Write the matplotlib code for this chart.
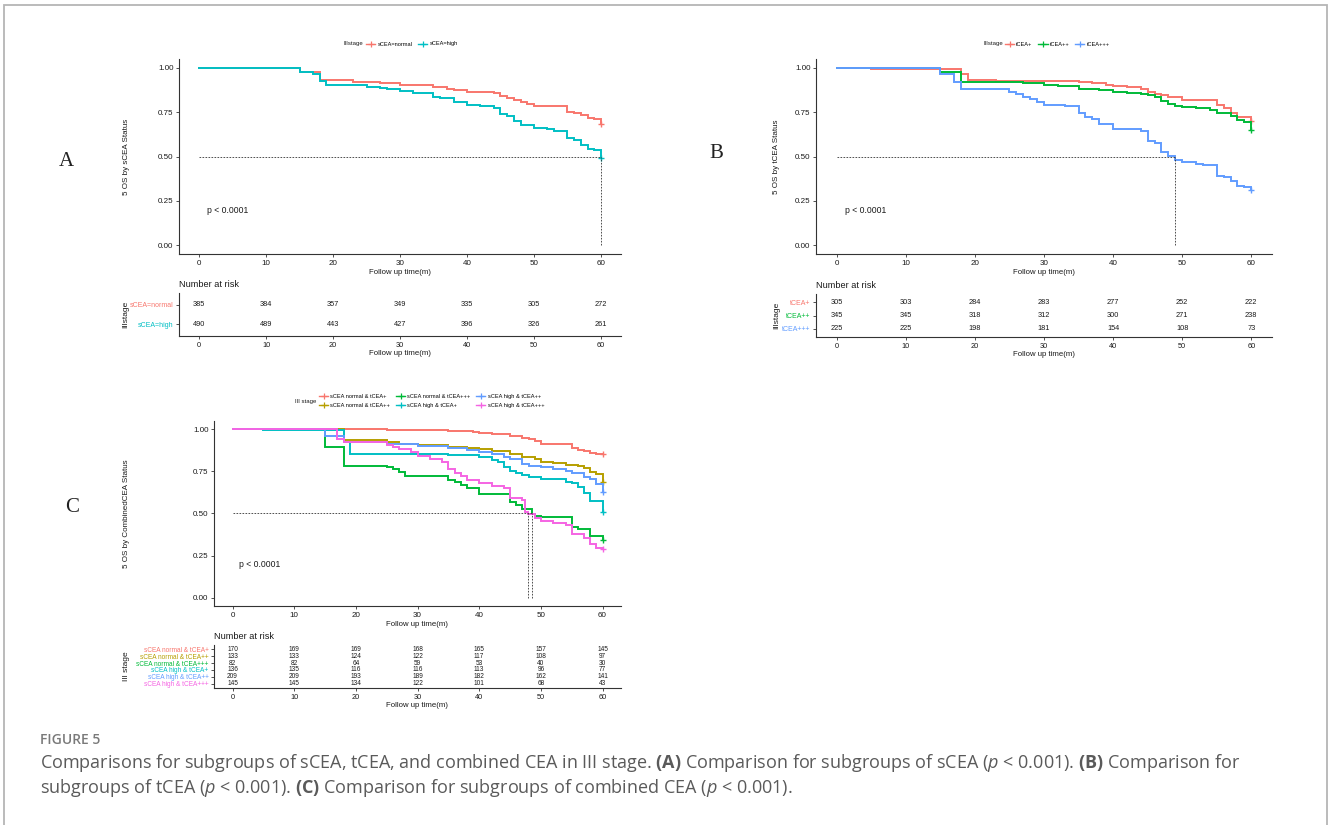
import matplotlib
matplotlib.use('Agg')
import matplotlib.pyplot as plt
from matplotlib.lines import Line2D
from matplotlib.patches import Rectangle

plt.rcParams['font.family'] = ['Liberation Sans', 'DejaVu Sans']
plt.rcParams['mathtext.fontset'] = 'custom'
plt.rcParams['mathtext.rm'] = 'Open Sans'
plt.rcParams['mathtext.it'] = 'Open Sans:italic'
plt.rcParams['mathtext.bf'] = 'Open Sans:bold'

# ---------------- data ----------------
# Panel A: sCEA
A_groups = ["sCEA=normal", "sCEA=high"]
A_colors = ["#F8766D", "#00BFC4"]
A_t_normal = [0, 7, 15, 18, 20, 23, 25, 27, 30, 35, 37, 38, 40, 44, 45, 46, 47, 48, 49, 50, 55, 56, 57, 58, 59, 60]
A_s_normal = [1.0, 0.997, 0.974, 0.931, 0.929, 0.921, 0.918, 0.912, 0.906, 0.893, 0.882, 0.873, 0.863, 0.856,
              0.841, 0.830, 0.818, 0.809, 0.798, 0.785, 0.749, 0.743, 0.734, 0.717, 0.710, 0.685]
A_t_high = [0, 5, 15, 17, 18, 19, 25, 27, 28, 30, 32, 35, 36, 38, 40, 42, 44, 45, 46, 47, 48, 50, 52, 53,
            55, 56, 57, 58, 59, 60]
A_s_high = [1.0, 0.998, 0.978, 0.964, 0.927, 0.903, 0.893, 0.884, 0.878, 0.869, 0.861, 0.837, 0.830, 0.809,
            0.792, 0.785, 0.772, 0.740, 0.728, 0.702, 0.676, 0.663, 0.654, 0.646, 0.607, 0.594, 0.566, 0.543,
            0.534, 0.494]
A_medians = [60]
A_risk_normal = [385, 384, 357, 349, 335, 305, 272]
A_risk_high = [490, 489, 443, 427, 396, 326, 261]

# Panel B: tCEA
B_groups = ["tCEA+", "tCEA++", "tCEA+++"]
B_colors = ["#F8766D", "#00BA38", "#619CFF"]
B_t_p1 = [0, 5, 8.5, 18, 19, 23, 35, 37, 39, 40, 42, 44, 45, 46, 47, 48, 50, 55, 56, 57, 58, 60]
B_s_p1 = [1.0, 0.996, 0.991, 0.966, 0.931, 0.927, 0.921, 0.916, 0.906, 0.897, 0.890, 0.878, 0.863, 0.854,
          0.845, 0.837, 0.818, 0.788, 0.775, 0.743, 0.725, 0.700]
B_t_p2 = [0, 15, 18, 25, 27, 30, 32, 35, 38, 40, 42, 44, 45, 46, 47, 48, 49, 50, 52, 54, 55, 57, 58, 59, 60]
B_s_p2 = [1.0, 0.974, 0.923, 0.918, 0.912, 0.904, 0.897, 0.882, 0.873, 0.865, 0.860, 0.854, 0.845, 0.837,
          0.815, 0.796, 0.787, 0.781, 0.773, 0.762, 0.743, 0.728, 0.706, 0.693, 0.650]
B_t_p3 = [0, 15, 17, 18, 25, 26, 27, 28, 29, 30, 33, 35, 36, 37, 38, 40, 43, 44, 45, 46, 47, 48, 49,
          50, 52, 53, 55, 56, 57, 58, 59, 60]
B_s_p3 = [1.0, 0.964, 0.921, 0.880, 0.865, 0.854, 0.837, 0.822, 0.807, 0.792, 0.787, 0.743, 0.725, 0.712,
          0.682, 0.657, 0.654, 0.646, 0.588, 0.575, 0.528, 0.504, 0.481, 0.468, 0.459, 0.453, 0.391, 0.384,
          0.363, 0.331, 0.326, 0.311]
B_medians = [49]
B_risk_p1 = [305, 303, 284, 283, 277, 252, 222]
B_risk_p2 = [345, 345, 318, 312, 300, 271, 238]
B_risk_p3 = [225, 225, 198, 181, 154, 108, 73]

# Panel C: combined CEA
C_groups = ["sCEA normal & tCEA+", "sCEA normal & tCEA++", "sCEA normal & tCEA+++",
            "sCEA high & tCEA+", "sCEA high & tCEA++", "sCEA high & tCEA+++"]
C_colors = ["#F8766D", "#B79F00", "#00BA38", "#00BFC4", "#619CFF", "#F564E3"]
C_t_n1 = [0, 25, 35, 39, 40, 42, 45, 47, 48, 49, 50, 55, 56, 57, 58, 59, 60]
C_s_n1 = [1.0, 0.996, 0.990, 0.982, 0.976, 0.970, 0.960, 0.950, 0.941, 0.931, 0.915, 0.887, 0.877, 0.869,
          0.861, 0.855, 0.853]
C_t_n2 = [0, 18, 25, 27, 30, 35, 38, 40, 42, 45, 47, 49, 50, 52, 54, 56, 57, 58, 59, 60]
C_s_n2 = [1.0, 0.935, 0.923, 0.915, 0.907, 0.895, 0.887, 0.881, 0.873, 0.855, 0.838, 0.824, 0.808, 0.798,
          0.788, 0.782, 0.768, 0.749, 0.733, 0.690]
C_t_n3 = [0, 15, 18, 25, 26, 27, 28, 35, 36, 37, 38, 40, 45, 46, 47, 48.5, 49, 50, 55, 56, 58, 60]
C_s_n3 = [1.0, 0.897, 0.784, 0.776, 0.764, 0.745, 0.725, 0.699, 0.685, 0.669, 0.650, 0.614, 0.566, 0.551,
          0.525, 0.497, 0.485, 0.477, 0.422, 0.408, 0.368, 0.343]
C_t_h1 = [0, 5, 18, 19, 35, 40, 42, 43, 44, 45, 46, 47, 48, 50, 54, 55, 56, 57, 58, 60]
C_s_h1 = [1.0, 0.994, 0.926, 0.853, 0.848, 0.836, 0.818, 0.804, 0.778, 0.752, 0.739, 0.729, 0.717, 0.705,
          0.689, 0.681, 0.659, 0.620, 0.574, 0.507]
C_t_h2 = [0, 15, 18, 20, 25, 30, 35, 38, 40, 42, 44, 45, 47, 48, 50, 52, 54, 55, 57, 58, 59, 60]
C_s_h2 = [1.0, 0.960, 0.927, 0.923, 0.915, 0.903, 0.891, 0.877, 0.863, 0.853, 0.838, 0.824, 0.792, 0.782,
          0.774, 0.764, 0.752, 0.739, 0.719, 0.705, 0.673, 0.630]
C_t_h3 = [0, 17, 18, 25, 26, 27, 29, 30, 32, 34, 35, 36, 37, 38, 40, 42, 44, 45, 47, 47.5, 47.9, 49, 50,
          52, 54, 55, 57, 58, 59, 60]
C_s_h3 = [1.0, 0.941, 0.923, 0.907, 0.897, 0.883, 0.867, 0.844, 0.824, 0.808, 0.764, 0.739, 0.725, 0.699,
          0.679, 0.665, 0.650, 0.594, 0.580, 0.511, 0.495, 0.471, 0.455, 0.446, 0.432, 0.376, 0.352, 0.317,
          0.297, 0.290]
C_medians = [47.9, 48.5]
C_risk_n1 = [170, 169, 169, 168, 165, 157, 145]
C_risk_n2 = [133, 133, 124, 122, 117, 108, 97]
C_risk_n3 = [82, 82, 64, 59, 53, 40, 30]
C_risk_h1 = [136, 135, 116, 116, 113, 96, 77]
C_risk_h2 = [209, 209, 193, 189, 182, 162, 141]
C_risk_h3 = [145, 145, 134, 122, 101, 68, 43]

risk_times = [0, 10, 20, 30, 40, 50, 60]
x_ticks = [0, 10, 20, 30, 40, 50, 60]
y_ticks = [0.0, 0.25, 0.5, 0.75, 1.0]
y_ticklabels = ["0.00", "0.25", "0.50", "0.75", "1.00"]

# ---------------- layout helpers ----------------
W, H = 1330, 825
fig = plt.figure(figsize=(W / 100, H / 100), dpi=100)
fig.patch.set_facecolor('white')

AXC = '#333333'
TXT = '#1a1a1a'


def ax_px(l, t, r, b):
    return fig.add_axes([l / W, 1 - b / H, (r - l) / W, (b - t) / H])


def style_axis(ax, fs):
    for s in ['top', 'right']:
        ax.spines[s].set_visible(False)
    for s in ['left', 'bottom']:
        ax.spines[s].set_color(AXC)
        ax.spines[s].set_linewidth(0.8)
    ax.tick_params(length=2.5, width=0.6, colors=AXC, labelsize=fs, pad=1.5, labelcolor=TXT)


def km_panel(box, curves, medians, ylabel, ylab_px, pval_xy):
    ax = ax_px(*box)
    for t, s, c in curves:
        ax.step(t, s, where='post', color=c, lw=1.4, solid_joinstyle='miter')
        ax.plot([t[-1]], [s[-1]], marker='+', color=c, ms=5, mew=1.0)
    mx = max(medians)
    ax.plot([0, mx], [0.5, 0.5], ls=(0, (2, 1.6)), color='#333333', lw=0.6)
    for m in medians:
        ax.plot([m, m], [0, 0.5], ls=(0, (2, 1.6)), color='#333333', lw=0.6)
    ax.set_xlim(-3, 63)
    ax.set_ylim(-0.05, 1.05)
    ax.set_xticks(x_ticks)
    ax.set_yticks(y_ticks)
    ax.set_yticklabels(y_ticklabels)
    style_axis(ax, 5.8)
    ax.set_xlabel("Follow up time(m)", fontsize=5.6, labelpad=1.5, color=TXT)
    ax.set_ylabel(ylabel, fontsize=5.8, color=TXT)
    ax.yaxis.set_label_coords((ylab_px - box[0]) / (box[2] - box[0]), 0.5)
    ax.text(pval_xy[0], pval_xy[1], "p < 0.0001", fontsize=6.2, ha='left', va='center', color=TXT)
    return ax


def risk_table(box, groups, colors, counts, fs_num, fs_lab, ylab_px, title_pad):
    ax = ax_px(*box)
    k = len(groups)
    for i, row in enumerate(counts):
        for t, n in zip(risk_times, row):
            ax.text(t, i, str(n), ha='center', va='center', fontsize=fs_num, color=TXT)
    ax.set_xlim(-3, 63)
    ax.set_ylim(k - 0.4, -0.6)
    ax.set_xticks(x_ticks)
    ax.set_yticks(range(k))
    ax.set_yticklabels(groups)
    style_axis(ax, 5.3)
    ax.tick_params(axis='y', labelsize=fs_lab)
    for lab, c in zip(ax.get_yticklabels(), colors):
        lab.set_color(c)
    ax.set_xlabel("Follow up time(m)", fontsize=5.6, labelpad=1.0, color=TXT)
    ax.set_ylabel("IIIstage" if k < 6 else "III stage", fontsize=6.0, color=TXT)
    ax.yaxis.set_label_coords((ylab_px - box[0]) / (box[2] - box[0]), 0.5)
    ax.set_title("Number at risk", loc='left', fontsize=6.6, pad=title_pad, color=TXT)
    return ax


def legend_at(x, y, groups, colors, ncol, title, title_x):
    handles = [Line2D([], [], color=c, lw=1.0, marker='+', ms=4, mew=0.9) for c in colors]
    fig.legend(handles, groups, loc='center left', bbox_to_anchor=(x / W, 1 - y / H), ncol=ncol,
               frameon=False, fontsize=4.1, handlelength=1.6, handletextpad=0.4, columnspacing=1.0,
               labelspacing=0.6, borderpad=0, borderaxespad=0)
    fig.text(title_x / W, 1 - y / H, title, fontsize=4.3, ha='left', va='center', color=TXT)


# ---------------- Panel A ----------------
km_panel((179, 59, 621, 254),
         [(A_t_normal, A_s_normal, A_colors[0]), (A_t_high, A_s_high, A_colors[1])],
         A_medians, "5 OS by sCEA Status", 130, (1.2, 0.195))
risk_table((179, 293, 621, 336), A_groups, A_colors, [A_risk_normal, A_risk_high], 5.3, 5.0, 129, 4)
legend_at(366, 44, A_groups, A_colors, 2, "IIIstage", 344)

# ---------------- Panel B ----------------
km_panel((816, 59, 1272, 254),
         [(B_t_p1, B_s_p1, B_colors[0]), (B_t_p2, B_s_p2, B_colors[1]), (B_t_p3, B_s_p3, B_colors[2])],
         B_medians, "5 OS by tCEA Status", 780, (1.2, 0.195))
risk_table((816, 294, 1272, 337), B_groups, B_colors, [B_risk_p1, B_risk_p2, B_risk_p3], 5.3, 5.0, 780, 4)
legend_at(1005, 44, B_groups, B_colors, 3, "IIIstage", 983)

# ---------------- Panel C ----------------
km_panel((214, 421, 621, 606),
         [(C_t_n1, C_s_n1, C_colors[0]), (C_t_n2, C_s_n2, C_colors[1]), (C_t_n3, C_s_n3, C_colors[2]),
          (C_t_h1, C_s_h1, C_colors[3]), (C_t_h2, C_s_h2, C_colors[4]), (C_t_h3, C_s_h3, C_colors[5])],
         C_medians, "5 OS by CombinedCEA Status", 130, (1.13, 0.194))
risk_table((214, 645, 621, 688), C_groups, C_colors,
           [C_risk_n1, C_risk_n2, C_risk_n3, C_risk_h1, C_risk_h2, C_risk_h3], 4.7, 4.7, 130, 4)
legend_at(319, 401, C_groups, C_colors, 3, "III stage", 295)

# ---------------- panel letters ----------------
for lab, x, y in [("A", 66, 162), ("B", 716, 153), ("C", 72, 508)]:
    fig.text(x / W, 1 - y / H, lab, fontsize=15, family='Liberation Serif', ha='center', va='center',
             color='#222222')

# ---------------- caption & frame ----------------
fig.add_artist(Rectangle((4 / W, 1 - 835 / H), 1323 / W, 830 / H, transform=fig.transFigure,
                         fill=False, edgecolor='#b5b5b5', lw=1.3))
fig.text(40 / W, 1 - 740 / H, "FIGURE 5", fontsize=10, family='Open Sans', fontweight='semibold',
         color='#7a7a7a', ha='left', va='center')
cap_col = '#5a5a5a'
line1 = (r"Comparisons for subgroups of sCEA, tCEA, and combined CEA in III stage. $\mathbf{(A)}$"
         r" Comparison for subgroups of sCEA ($\mathit{p}$ < 0.001). $\mathbf{(B)}$ Comparison for")
line2 = (r"subgroups of tCEA ($\mathit{p}$ < 0.001). $\mathbf{(C)}$ Comparison for subgroups of combined CEA"
         r" ($\mathit{p}$ < 0.001).")
fig.text(40 / W, 1 - 763 / H, line1, fontsize=12.95, family='Open Sans', color=cap_col, ha='left',
         va='center')
fig.text(40 / W, 1 - 788 / H, line2, fontsize=12.95, family='Open Sans', color=cap_col, ha='left',
         va='center')

fig.savefig("out.png", dpi=100, facecolor='white')
